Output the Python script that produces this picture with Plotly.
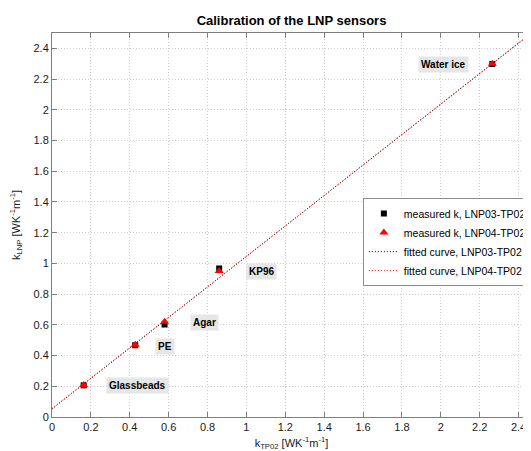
import numpy as np
import plotly.graph_objects as go

# ---- data ----
materials = ["Glassbeads", "PE", "Agar", "KP96", "Water ice"]
k_tp02 = [0.163, 0.428, 0.579, 0.860, 2.265]
k_lnp03 = [0.206, 0.467, 0.602, 0.967, 2.298]
k_lnp04 = [0.208, 0.470, 0.620, 0.950, 2.300]

# linear fits (slope, intercept)
fit_lnp03 = [0.993, 0.052]
fit_lnp04 = [0.990, 0.056]
fit_x_span = [0.0, 2.5]

# label anchor positions (data coords)
label_x = [0.442, 0.579, 0.783, 1.080, 2.013]
label_y = [0.204, 0.460, 0.617, 0.946, 2.293]

x_ticks = [0, 0.2, 0.4, 0.6, 0.8, 1, 1.2, 1.4, 1.6, 1.8, 2, 2.2, 2.4]
y_ticks = [0, 0.2, 0.4, 0.6, 0.8, 1, 1.2, 1.4, 1.6, 1.8, 2, 2.2, 2.4]

FONT = "Liberation Sans, Arial, Helvetica, sans-serif"

xf = np.array(fit_x_span)

fig = go.Figure()

fig.add_trace(go.Scatter(
    x=xf, y=fit_lnp03[0] * xf + fit_lnp03[1], mode="lines",
    line=dict(color="black", width=1, dash="1px,2px"),
    name="fitted curve, LNP03-TP02", legendrank=3))
fig.add_trace(go.Scatter(
    x=xf, y=fit_lnp04[0] * xf + fit_lnp04[1], mode="lines",
    line=dict(color="red", width=1, dash="1px,2px"),
    name="fitted curve, LNP04-TP02", legendrank=4))
fig.add_trace(go.Scatter(
    x=k_tp02, y=k_lnp03, mode="markers",
    marker=dict(symbol="square", color="black", size=6),
    name="measured k, LNP03-TP02", legendrank=1))
fig.add_trace(go.Scatter(
    x=k_tp02, y=k_lnp04, mode="markers",
    marker=dict(symbol="triangle-up", color="red", size=8),
    name="measured k, LNP04-TP02", legendrank=2))

for name, lx, ly in zip(materials, label_x, label_y):
    fig.add_annotation(
        x=lx, y=ly, xref="x", yref="y", text="<b>" + name + "</b>",
        showarrow=False, bgcolor="#e6e6e6", borderpad=2,
        font=dict(family=FONT, size=10, color="black"))

axis_common = dict(
    showgrid=True, gridcolor="#cfcfcf", griddash="1px,2px", gridwidth=1,
    showline=True, linecolor="#7f7f7f", linewidth=1,
    ticks="inside", ticklen=5, tickcolor="#7f7f7f",
    tickfont=dict(family=FONT, size=11, color="#1a1a1a"),
    zeroline=False, automargin=False,
)

# the page body adds an 8px offset, so the figure is sized to end at the window edge
W, H = 523, 443
fig.update_layout(
    width=W, height=H,
    margin=dict(l=44, r=0, t=25, b=34, autoexpand=False),
    paper_bgcolor="white", plot_bgcolor="white",
    title=dict(text="<b>Calibration of the LNP sensors</b>", x=0.5, xref="paper",
               y=1 - 12 / H, yref="container", yanchor="middle", xanchor="center",
               font=dict(family=FONT, size=13, color="black")),
    xaxis=dict(range=[0, 2.464], tickvals=x_ticks, mirror="ticks",
               title=dict(text="k<sub>TP02</sub> [WK<sup>-1</sup>m<sup>-1</sup>]",
                          font=dict(family=FONT, size=11, color="#1a1a1a")),
               **axis_common),
    yaxis=dict(range=[0, 2.5], tickvals=y_ticks,
               title=dict(text="k<sub>LNP</sub> [WK<sup>-1</sup>m<sup>-1</sup>]",
                          font=dict(family=FONT, size=11, color="#1a1a1a")),
               **axis_common),
    legend=dict(x=0.649, y=0.57, xanchor="left", yanchor="top",
                bgcolor="white", bordercolor="#8c8c8c", borderwidth=1,
                font=dict(family=FONT, size=10.5, color="black"),
                tracegroupgap=0, itemwidth=30),
    showlegend=True,
)

fig.write_html("out.html")
